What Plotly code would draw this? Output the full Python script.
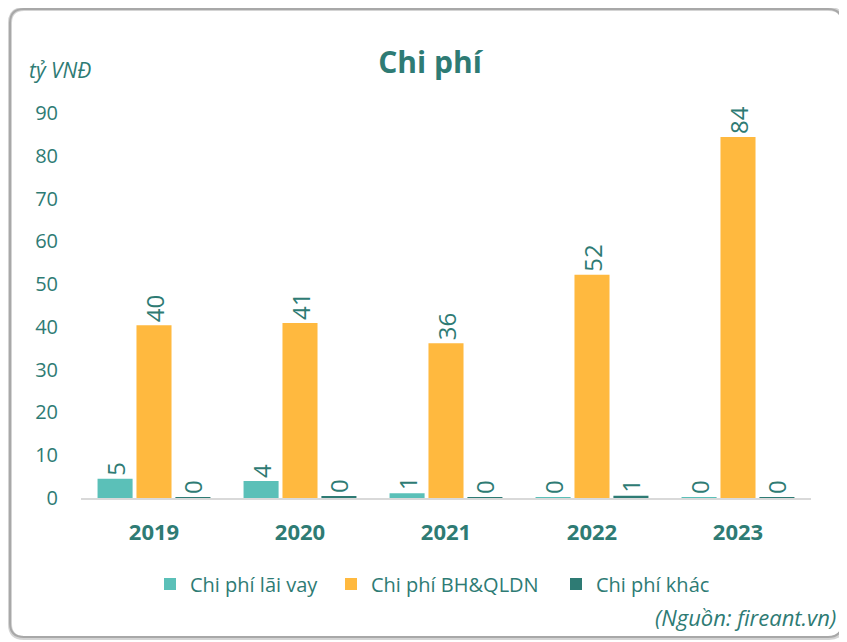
import plotly.graph_objects as go

# data
years = ["2019", "2020", "2021", "2022", "2023"]
lai_vay = [4.5, 4.0, 1.1, 0.05, 0.05]
bh_qldn = [40.4, 40.9, 36.2, 52.2, 84.4]
khac = [0.1, 0.3, 0.1, 0.5, 0.05]

# page body adds an 8px offset, so figure is laid out in screen px minus 8
OFF = 8
W, H = 847 - OFF, 642 - OFF
TEAL = "#2E7B74"
FONT = "Open Sans"


def px(X):
    return (X - OFF) / W


def py(Y):
    return 1 - (Y - OFF) / H


# name, values, colour, legend id, screen x of legend square
series = [
    ("Chi phí lãi vay", lai_vay, "#5BC0B8", "legend", 165),
    ("Chi phí BH&QLDN", bh_qldn, "#FFB93F", "legend2", 346),
    ("Chi phí khác", khac, "#2E7B74", "legend3", 571),
]

fig = go.Figure()
for name, vals, color, lg, _ in series:
    fig.add_trace(go.Bar(
        x=years, y=vals, name=name, legend=lg, showlegend=True,
        marker=dict(color=color, line=dict(width=0)),
        texttemplate="%{y:.0f}", textposition="outside",
        textangle=-90, cliponaxis=False,
        textfont=dict(size=24, color=TEAL, family=FONT),
    ))


def rounded(xa, xb, ya, yb, r):
    x0, x1, y0, y1 = px(xa), px(xb), py(yb), py(ya)
    rx, ry = r / W, r / H
    return (f"M {x0+rx},{y1} L {x1-rx},{y1} Q {x1},{y1} {x1},{y1-ry} "
            f"L {x1},{y0+ry} Q {x1},{y0} {x1-rx},{y0} L {x0+rx},{y0} "
            f"Q {x0},{y0} {x0},{y0+ry} L {x0},{y1-ry} Q {x0},{y1} {x0+rx},{y1} Z")


legends = {}
for _, _, _, lg, sx in series:
    legends[lg] = dict(orientation="h", x=px(sx - 15), xanchor="left",
                       y=py(584), yanchor="middle",
                       font=dict(size=20, color=TEAL), itemwidth=30,
                       bgcolor="rgba(0,0,0,0)")

fig.update_layout(
    width=W, height=H,
    margin=dict(l=0, r=0, t=0, b=0, autoexpand=False),
    paper_bgcolor="white", plot_bgcolor="white",
    font=dict(family=FONT, color=TEAL),
    showlegend=True,
    barmode="group", bargap=0.2, bargroupgap=0.1,
    title=dict(text="<b>Chi phí</b>", x=px(430), xanchor="center",
               y=py(62), yanchor="middle",
               font=dict(size=30, color=TEAL, family=FONT)),
    xaxis=dict(domain=[px(81), px(811)], showline=True, linecolor="#D9D9D9",
               linewidth=2, ticks="", showgrid=False, automargin=False,
               ticklabelstandoff=14,
               tickfont=dict(size=22, color=TEAL, family=FONT,
                             weight="bold")),
    yaxis=dict(domain=[py(498), py(113)], range=[0, 90],
               dtick=10, showgrid=False, zeroline=False, ticks="",
               automargin=False,
               tickfont=dict(size=20, color=TEAL), ticklabelstandoff=22),
    shapes=[
        dict(type="path", path=rounded(10, 843, 9, 638, 14),
             xref="paper", yref="paper",
             line=dict(color="#D4D4D4", width=4), layer="below"),
        dict(type="path", path=rounded(10, 842, 9, 637, 14),
             xref="paper", yref="paper",
             line=dict(color="#A8A8A8", width=2), layer="below"),
    ],
    annotations=[
        dict(text="<i>tỷ VNĐ</i>", x=px(27), xanchor="left",
             y=py(70), yanchor="middle", xref="paper", yref="paper",
             showarrow=False, font=dict(size=21, color=TEAL)),
        dict(text="<i>(Nguồn: fireant.vn)</i>", x=px(838), xanchor="right",
             y=py(617), yanchor="middle", xref="paper", yref="paper",
             showarrow=False, font=dict(size=22, color=TEAL)),
    ],
    **legends,
)

fig.write_html("out.html")
